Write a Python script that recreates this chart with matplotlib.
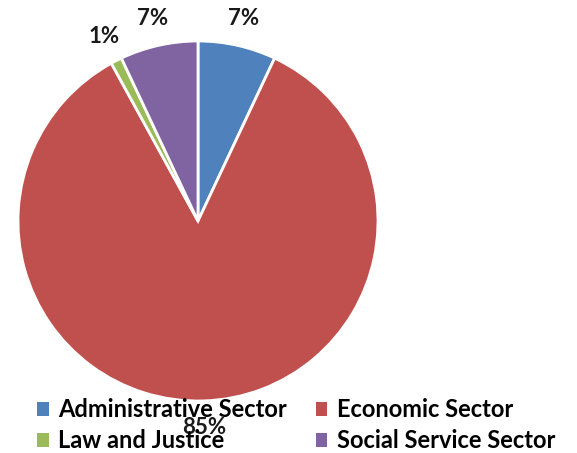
import matplotlib.pyplot as plt
from matplotlib.patches import Patch

# Share of budget by sector
sectors = ['Administrative Sector', 'Economic Sector', 'Law and Justice', 'Social Service Sector']
shares = [7, 85, 1, 7]
colors = ['#4F81BD', '#C0504D', '#9BBB59', '#8064A2']

plt.rcParams['font.family'] = ['Lato', 'DejaVu Sans']

fig = plt.figure(figsize=(5.77, 4.53), dpi=100)
ax = fig.add_axes([18 / 577, 52 / 453, 360 / 577, 360 / 453])

wedges, texts, autotexts = ax.pie(
    shares, colors=colors, startangle=90, counterclock=False,
    autopct='%d%%', pctdistance=1.15,
    wedgeprops=dict(edgecolor='white', linewidth=2),
    textprops=dict(fontsize=16, fontweight='bold', color='#1a1a1a'))
ax.set_xlim(-1, 1)
ax.set_ylim(-1, 1)
ax.set_aspect('equal')

# legend fills column-wise, so reorder to read row by row
order = [0, 2, 1, 3]
handles = [Patch(facecolor=colors[i], label=sectors[i]) for i in order]
fig.legend(handles=handles, loc='lower left', bbox_to_anchor=(0.04, -0.03),
           ncol=2, frameon=False, prop=dict(size=17, weight='bold'),
           handlelength=0.5, handleheight=0.5, handletextpad=0.4,
           columnspacing=1.2, labelspacing=0.35, borderaxespad=0.2)

fig.savefig('out.png', dpi=100)
